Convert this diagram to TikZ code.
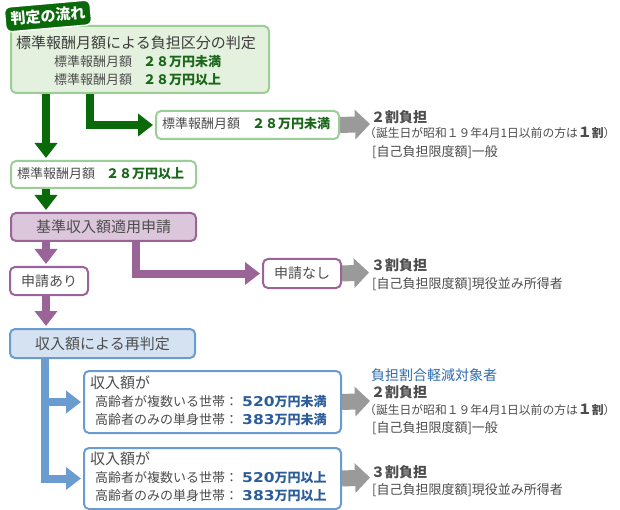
\documentclass[tikz,border=0pt]{standalone}
\usepackage{fontspec}
\usepackage{graphicx}
\setmainfont{Noto Sans CJK JP}
\newfontfamily\dejavu{DejaVu Sans}
\usetikzlibrary{arrows.meta,backgrounds}
\definecolor{dgreen}{HTML}{0A6A0A}
\definecolor{ngreen}{HTML}{1A661A}
\definecolor{gborder}{HTML}{9CCF96}
\definecolor{gfill}{HTML}{E4F1DE}
\definecolor{pline}{HTML}{9A6499}
\definecolor{pfill}{HTML}{DCC6DC}
\definecolor{bline}{HTML}{6B9CD0}
\definecolor{bfill}{HTML}{D4E2F2}
\definecolor{btext}{HTML}{2B5D9B}
\definecolor{blabel}{HTML}{2E6BB0}
\definecolor{garr}{HTML}{9A9A9A}
\definecolor{tgray}{HTML}{4D4D4D}
\definecolor{tdark}{HTML}{3C3C3C}
\newcommand\myfs[1]{\fontsize{#1}{#1}\selectfont}
\newcommand\widedig[1]{\scalebox{1.15}[1]{\dejavu\bfseries\fontsize{13.5}{13.5}\selectfont #1}}
\begin{document}
\begin{tikzpicture}[x=1pt,y=-1pt,
  box/.style={rounded corners=5pt, line width=2pt, anchor=north west, inner sep=0pt, text=tgray},
  gbox/.style={box, draw=gborder, fill=white},
  pbox/.style={box, draw=pline, fill=white},
  bbox/.style={box, draw=bline, fill=white},
  lbl/.style={anchor=west, inner sep=0pt, text=tgray},
  conn/.style={line width=8pt, -{Triangle[width=22pt,length=15pt]}, shorten >=2pt},
  garrow/.style={conn, draw=dgreen},
  parrow/.style={conn, draw=pline},
  barrow/.style={conn, draw=bline},
  grarrow/.style={line width=16pt, draw=garr, -{Triangle[width=29pt,length=15pt]}},
  tagstyle/.style={fill=dgreen, draw=white, line width=1.5pt, rounded corners=6pt, text=white, inner sep=0pt, font=\myfs{15}\bfseries}
]
\useasboundingbox (0,0) rectangle (620,510);

% boxes
\node[gbox, fill=gfill, minimum width=258pt, minimum height=67pt] (b1) at (10,25) {};
\node[lbl, font=\myfs{15}, text=tdark] (t1) at (16,43) {標準報酬月額による負担区分の判定};
\node[lbl, font=\myfs{13}] (t2) at (54,62) {\makebox[89pt][l]{標準報酬月額}{\bfseries\color{ngreen}２８万円未満}};
\node[lbl, font=\myfs{13}] (t3) at (54,80) {\makebox[89pt][l]{標準報酬月額}{\bfseries\color{ngreen}２８万円以上}};

\node[tagstyle, rotate=5, minimum width=86pt, minimum height=25pt] (tag) at (48,16) {判定の流れ};

\node[gbox, minimum width=183pt, minimum height=28pt] (bl) at (155,110) {};
\node[lbl, font=\myfs{13}] (tl) at (162,124) {\makebox[90pt][l]{標準報酬月額}{\bfseries\color{ngreen}２８万円未満}};

\node[gbox, minimum width=185pt, minimum height=27pt] (b2) at (10,160) {};
\node[lbl, font=\myfs{13}] (tu) at (17,173.5) {\makebox[89pt][l]{標準報酬月額}{\bfseries\color{ngreen}２８万円以上}};

\node[pbox, fill=pfill, minimum width=185pt, minimum height=28pt, font=\myfs{15}] (b3) at (10,212) {基準収入額適用申請};
\node[pbox, minimum width=78pt, minimum height=28pt, font=\myfs{14}] (ba) at (9,266) {申請あり};
\node[pbox, minimum width=78pt, minimum height=29pt, font=\myfs{14}] (bn) at (262,258) {申請なし};
\node[bbox, fill=bfill, minimum width=185pt, minimum height=29pt, font=\myfs{15}] (b4) at (9,328) {収入額による再判定};

\node[bbox, minimum width=257pt, minimum height=62pt] (bA) at (83,370) {};
\node[lbl, font=\myfs{15}] (tA1) at (90,383) {収入額が};
\node[lbl, font=\myfs{13}] (tA2) at (95,402) {\makebox[147pt][l]{高齢者が複数いる世帯：}{\color{btext}\widedig{520}\bfseries 万円未満}};
\node[lbl, font=\myfs{13}] (tA3) at (95,420) {\makebox[147pt][l]{高齢者のみの単身世帯：}{\color{btext}\widedig{383}\bfseries 万円未満}};

\node[bbox, minimum width=257pt, minimum height=61pt] (bB) at (83,447) {};
\node[lbl, font=\myfs{15}] (tB1) at (90,459) {収入額が};
\node[lbl, font=\myfs{13}] (tB2) at (95,478) {\makebox[147pt][l]{高齢者が複数いる世帯：}{\color{btext}\widedig{520}\bfseries 万円以上}};
\node[lbl, font=\myfs{13}] (tB3) at (95,496) {\makebox[147pt][l]{高齢者のみの単身世帯：}{\color{btext}\widedig{383}\bfseries 万円以上}};

% right-hand results
\node[lbl, font=\myfs{14}\bfseries] (r1a) at (371,117) {２割負担};
\node[lbl, font=\myfs{11.8}] (r1b) at (364,133) {（誕生日が昭和１９年4月1日以前の方は{\myfs{14}\bfseries １}{\bfseries 割}）};
\node[lbl, font=\myfs{13}] (r1c) at (372,152) {[自己負担限度額]一般};

\node[lbl, font=\myfs{14}\bfseries] (r2a) at (371,265) {３割負担};
\node[lbl, font=\myfs{13}] (r2b) at (372,284) {[自己負担限度額]現役並み所得者};

\node[lbl, font=\myfs{14}, text=blabel] (r3z) at (371,375) {負担割合軽減対象者};
\node[lbl, font=\myfs{14}\bfseries] (r3a) at (371,392) {２割負担};
\node[lbl, font=\myfs{11.8}] (r3b) at (364,410) {（誕生日が昭和１９年4月1日以前の方は{\myfs{14}\bfseries １}{\bfseries 割}）};
\node[lbl, font=\myfs{13}] (r3c) at (372,428) {[自己負担限度額]一般};

\node[lbl, font=\myfs{14}\bfseries] (r4a) at (371,472) {３割負担};
\node[lbl, font=\myfs{13}] (r4b) at (372,490) {[自己負担限度額]現役並み所得者};

\coordinate (g1) at (370,124);
\coordinate (g2) at (369,272.5);
\coordinate (g3) at (370,401);
\coordinate (g4) at (370,477.5);

\begin{scope}[on background layer]
\fill[white] (0,0) rectangle (620,510);
\draw[garrow] ([xshift=36pt]b1.south west) -- ([xshift=36pt]b2.north west);
\draw[garrow] ([xshift=80pt]b1.south west) |- (bl.west);
\draw[garrow] ([xshift=36pt]b2.south west) -- ([xshift=36pt]b3.north west);
\draw[parrow] ([xshift=36pt]b3.south west) -- ([xshift=37pt]ba.north west);
\draw[parrow] ([xshift=126pt]b3.south west) |- (bn.west);
\draw[parrow] ([xshift=37pt]ba.south west) -- ([xshift=37pt]b4.north west);
\draw[barrow] ([xshift=36pt]b4.south west) |- (bA.west);
\draw[barrow] ([xshift=36pt]b4.south west) |- (bB.west);
\draw[grarrow] (bl.east) -- (g1);
\draw[grarrow] (bn.east) -- (g2);
\draw[grarrow] (bA.east) -- (g3);
\draw[grarrow] (bB.east) -- (g4);
\end{scope}
\end{tikzpicture}
\end{document}
